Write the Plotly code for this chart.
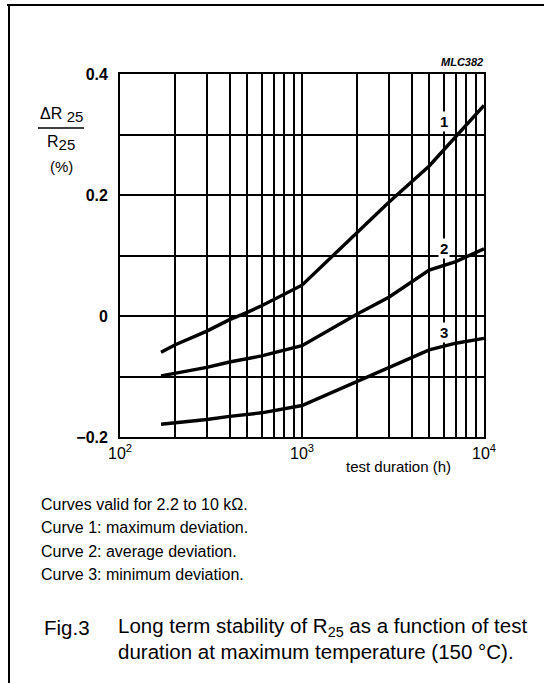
import math
import plotly.graph_objects as go

# ---- data ----
hours = [168, 200, 300, 400, 500, 600, 1000, 2000, 3000, 5000, 7000, 10000]
curve1 = [-0.060, -0.048, -0.025, -0.006, 0.006, 0.017, 0.051, 0.137, 0.188, 0.248, 0.297, 0.348]
curve2 = [-0.099, -0.095, -0.085, -0.076, -0.071, -0.066, -0.049, 0.003, 0.031, 0.076, 0.090, 0.111]
curve3 = [-0.179, -0.177, -0.171, -0.166, -0.163, -0.160, -0.148, -0.108, -0.085, -0.056, -0.045, -0.037]
curve_names = ["1", "2", "3"]
label_pos_x = [6000, 6000, 6000]
label_pos_y = [0.322, 0.112, -0.028]

x_grid = [m * 10 ** e for e in (2, 3) for m in range(1, 10)] + [10000]
x_ticktext = ["10<sup>2</sup>" if v == 100 else "10<sup>3</sup>" if v == 1000
              else "10<sup>4</sup>" if v == 10000 else "" for v in x_grid]
y_grid = [-0.2, -0.1, 0.0, 0.1, 0.2, 0.3, 0.4]
y_ticktext = ["\u22120.2", "", "0", "", "0.2", "", "0.4"]

notes = ["Curves valid for 2.2 to 10 k\u03a9.",
         "Curve 1: maximum deviation.",
         "Curve 2: average deviation.",
         "Curve 3: minimum deviation."]
caption_fig = "Fig.3"
caption_lines = ["Long term stability of R<sub>25</sub> as a function of test",
                 "duration at maximum temperature (150 \u00b0C)."]

FONT = "Liberation Sans, Arial, Helvetica, sans-serif"
W, H = 551, 683
L, R, T, B = 120, 484, 74, 437


def px(x):
    return (x - L) / (R - L)


def py(y):
    return (B - y) / (B - T)


fig = go.Figure()
for vals in (curve1, curve2, curve3):
    fig.add_trace(go.Scatter(x=hours, y=vals, mode="lines",
                             line=dict(color="black", width=3.4),
                             showlegend=False, hoverinfo="skip"))

for name, lx, ly in zip(curve_names, label_pos_x, label_pos_y):
    fig.add_annotation(x=math.log10(lx), y=ly, text=name, showarrow=False,
                       xref="x", yref="y", bgcolor="white",
                       xanchor="center", yanchor="middle",
                       font=dict(family=FONT, size=15, color="black", weight="bold"),
                       borderpad=1)

fig.update_xaxes(type="log", range=[2, 4], tickvals=x_grid, ticktext=x_ticktext,
                 showgrid=True, gridcolor="black", gridwidth=1.6,
                 showline=True, linecolor="black", linewidth=1.8, mirror=True,
                 ticks="", zeroline=False, ticklabelstandoff=1,
                 tickfont=dict(family=FONT, size=16, color="black"))
fig.update_yaxes(range=[-0.2, 0.4], tickvals=y_grid, ticktext=y_ticktext,
                 showgrid=True, gridcolor="black", gridwidth=1.6,
                 showline=True, linecolor="black", linewidth=1.8, mirror=True,
                 ticks="", zeroline=False, ticklabelstandoff=7,
                 tickfont=dict(family=FONT, size=16, color="black", weight="bold"))

ann_common = dict(showarrow=False, xref="paper", yref="paper")
# y-axis title as fraction
fig.add_annotation(x=px(61), y=py(115), text="\u0394R <sub><span style='font-size:15px'>25</span></sub>",
                   xanchor="center", yanchor="middle",
                   font=dict(family=FONT, size=16, color="black"), **ann_common)
fig.add_annotation(x=px(61), y=py(143), text="R<sub><span style='font-size:15px'>25</span></sub>",
                   xanchor="center", yanchor="middle",
                   font=dict(family=FONT, size=16, color="black"), **ann_common)
fig.add_annotation(x=px(61), y=py(166), text="(%)",
                   xanchor="center", yanchor="middle",
                   font=dict(family=FONT, size=15, color="black"), **ann_common)
fig.add_shape(type="line", xref="paper", yref="paper", x0=px(38), x1=px(84),
              y0=py(128), y1=py(128), line=dict(color="black", width=1.6))

# x axis title
fig.add_annotation(x=px(398), y=py(466), text="test duration (h)",
                   xanchor="center", yanchor="middle",
                   font=dict(family=FONT, size=15, color="black"), **ann_common)
# MLC code
fig.add_annotation(x=px(485), y=py(62), text="<b><i>MLC382</i></b>",
                   xanchor="right", yanchor="middle",
                   font=dict(family=FONT, size=11, color="black"), **ann_common)

# notes
for i, t in enumerate(notes):
    fig.add_annotation(x=px(39), y=py(504 + i * 23.5), text=t,
                       xanchor="left", yanchor="middle",
                       font=dict(family=FONT, size=16, color="black"), **ann_common)

# caption
fig.add_annotation(x=px(42), y=py(627), text=caption_fig,
                   xanchor="left", yanchor="middle",
                   font=dict(family=FONT, size=20.5, color="black"), **ann_common)
for i, t in enumerate(caption_lines):
    fig.add_annotation(x=px(116), y=py(627 + i * 24), text=t,
                       xanchor="left", yanchor="middle",
                       font=dict(family=FONT, size=20.5, color="black"), **ann_common)

# outer frame (top and left)
fig.add_shape(type="line", xref="paper", yref="paper", x0=px(7), x1=px(544),
              y0=py(5), y1=py(5), line=dict(color="black", width=2))
fig.add_shape(type="line", xref="paper", yref="paper", x0=px(9), x1=px(9),
              y0=py(5), y1=py(700), line=dict(color="black", width=2))

fig.update_layout(width=W, height=H, autosize=False,
                  margin=dict(l=L, r=W - R, t=T, b=H - B, pad=0),
                  paper_bgcolor="white", plot_bgcolor="white",
                  showlegend=False)

fig.write_html("out.html")
